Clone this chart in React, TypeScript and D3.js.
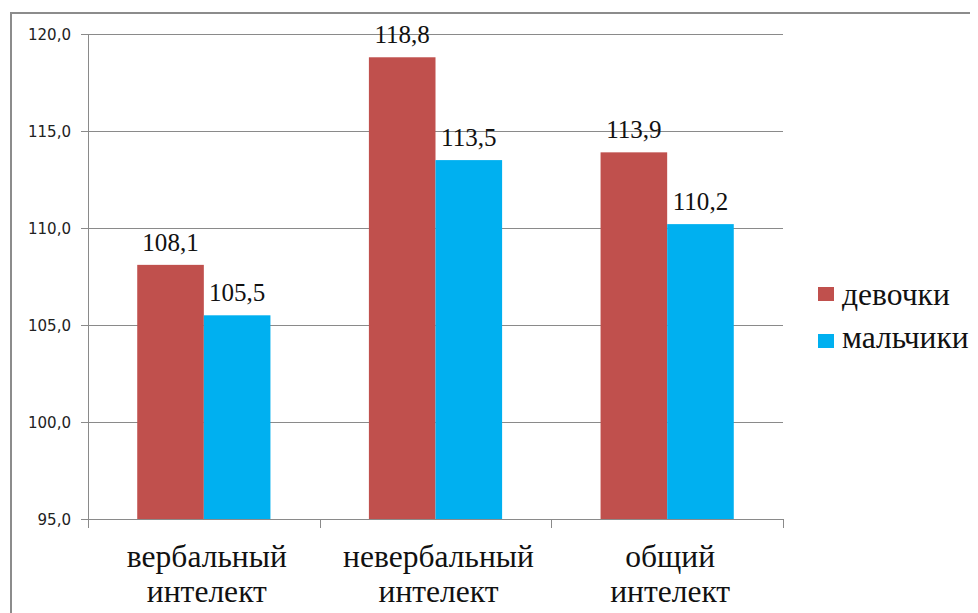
import React, { useEffect, useState } from "react";
import * as d3 from "d3";

const categories = [["вербальный", "интелект"], ["невербальный", "интелект"], ["общий", "интелект"]];
const seriesNames = ["девочки", "мальчики"];
const girls = [108.1, 118.8, 113.9];
const boys = [105.5, 113.5, 110.2];
const yTicks = [95, 100, 105, 110, 115, 120];
const colors = ["#C0504D", "#00B0F0"];

const W = 978, H = 613;
const M = 8; // body margin
const plot = { left: 88, right: 783, top: 34, bottom: 519 };
const SERIF = "Liberation Serif";
const SANS = "DejaVu Sans";

export default function App() {
  // re-render a few times with a negligible font-size nudge so fonts are re-resolved once available
  const [tick, setTick] = useState(0);
  useEffect(() => {
    const timers = [0, 30, 100, 250, 500, 900].map((ms, i) => setTimeout(() => setTick(i + 1), ms));
    if ((document as any).fonts && (document as any).fonts.ready) {
      (document as any).fonts.ready.then(() => setTick((t) => t + 1));
    }
    return () => timers.forEach(clearTimeout);
  }, []);
  const nudge = (tick % 7) * 0.01;

  const series = [girls, boys];
  const y = d3.scaleLinear().domain([95, 120]).range([plot.bottom, plot.top]);
  const x0 = d3.scaleBand<number>().domain(d3.range(categories.length)).range([plot.left, plot.right]).paddingInner(0.425).paddingOuter(0.2125);
  const x1 = d3.scaleBand<number>().domain(d3.range(series.length)).range([0, x0.bandwidth()]);
  const fmt = (v: number) => v.toFixed(1).replace(".", ",");
  const band = (plot.right - plot.left) / categories.length;
  const grid = "#8a8a8a";
  return (
    <svg key={tick} width={W - M} height={H - M}>
      <g transform={`translate(${-M},${-M})`}>
        <path d={`M11,${H} V13 H${W}`} fill="none" stroke="#8c8c8c" strokeWidth={2} />
        {yTicks.map((t) => (
          <g key={t}>
            <line x1={plot.left - 7} x2={plot.right} y1={Math.round(y(t)) + 0.5} y2={Math.round(y(t)) + 0.5} stroke={grid} strokeWidth={1} />
            <text x={71} y={y(t) + 5.5} textAnchor="end" fontFamily={SANS} fontSize={15 + nudge} fill="#222">{fmt(t)}</text>
          </g>
        ))}
        <line x1={plot.left + 0.5} x2={plot.left + 0.5} y1={plot.top} y2={plot.bottom} stroke={grid} />
        {d3.range(categories.length + 1).map((i) => (
          <line key={i} x1={Math.round(plot.left + i * band) + 0.5} x2={Math.round(plot.left + i * band) + 0.5} y1={plot.bottom} y2={plot.bottom + 9} stroke={grid} />
        ))}
        {categories.map((c, ci) => (
          <g key={ci}>
            {series.map((s, si) => {
              const bx = (x0(ci) as number) + (x1(si) as number);
              const bw = x1.bandwidth();
              return (
                <g key={si}>
                  <rect x={bx} y={y(s[ci])} width={bw} height={plot.bottom - y(s[ci])} fill={colors[si]} />
                  <text x={bx + bw / 2} y={y(s[ci]) - 14} textAnchor="middle" fontFamily={SERIF} fontSize={25 + nudge} fill="#111">{fmt(s[ci])}</text>
                </g>
              );
            })}
            {c.map((line, li) => (
              <text key={li} x={(x0(ci) as number) + x0.bandwidth() / 2 + 3} y={567 + li * 35} textAnchor="middle" fontFamily={SERIF} fontSize={31.5 + nudge} fill="#111">{line}</text>
            ))}
          </g>
        ))}
        {seriesNames.map((n, i) => (
          <g key={n}>
            <rect x={818} y={287 + i * 47} width={16} height={14} fill={colors[i]} />
            <text x={842} y={305 + i * 43} fontFamily={SERIF} fontSize={31.5 + nudge} fill="#111">{n}</text>
          </g>
        ))}
      </g>
    </svg>
  );
}
